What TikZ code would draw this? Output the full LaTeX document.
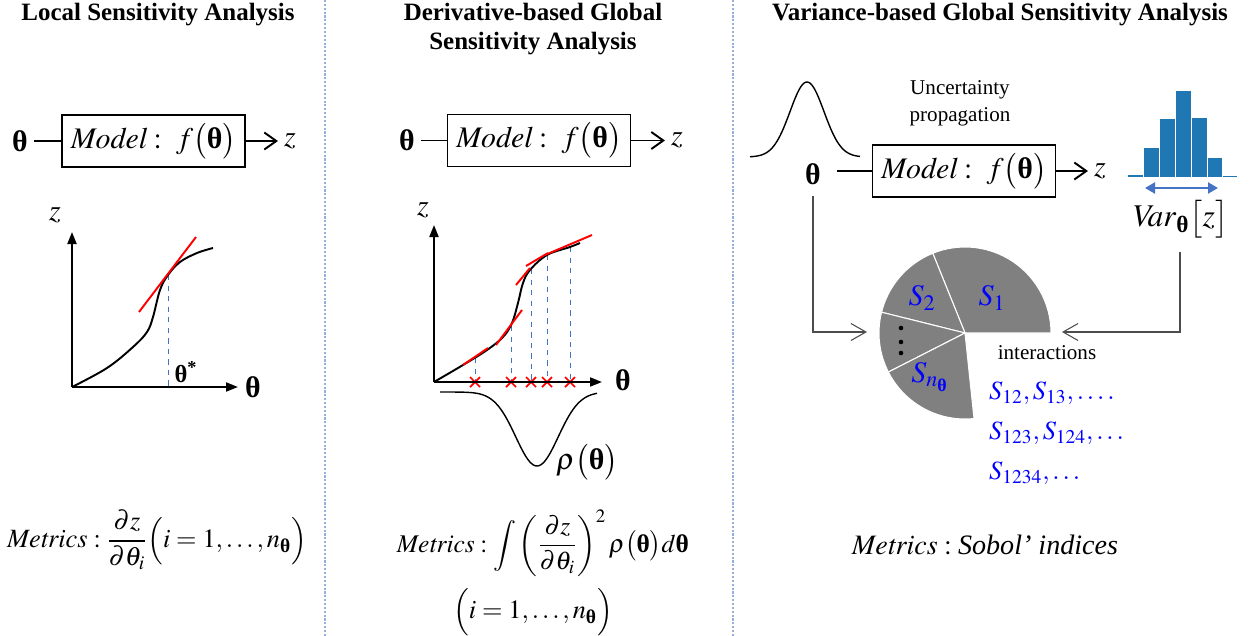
\documentclass[tikz,border=0pt]{standalone}
\usepackage{amsmath}
\usepackage{mathptmx}
\usepackage{fontspec}
\setmainfont{Liberation Serif}
\usepackage{xcolor}
\usepackage{tikz}
\usetikzlibrary{arrows.meta, positioning}
\definecolor{histblue}{RGB}{31,119,180}
\definecolor{arrowblue}{RGB}{68,114,196}
\definecolor{piegray}{RGB}{128,128,128}
\definecolor{splitblue}{RGB}{150,175,220}
\newcommand{\bth}{\text{\normalfont\bfseries θ}}

\begin{document}
\begin{tikzpicture}[
  x=0.02cm, y=-0.02cm,
  modelbox/.style={draw, line width=1.1pt, minimum width=3.66cm, minimum height=1.04cm, inner sep=0pt, font=\fontsize{17}{20}\selectfont},
  lbl/.style={font=\fontsize{17}{20}\selectfont},
  metric/.style={font=\fontsize{15}{18}\selectfont},
  title/.style={font=\bfseries\fontsize{14.2}{16.5}\selectfont, align=center},
  arrow/.style={line width=1.1pt, -{Straight Barb[length=2.4mm, width=3.4mm]}},
  axis/.style={line width=1.1pt, -{Triangle[length=2.4mm, width=1.8mm]}},
  tangent/.style={red, line width=1.1pt},
  guide/.style={arrowblue, dashed, line width=0.4pt},
  feed/.style={black!70, line width=0.6pt, -{Straight Barb[length=3mm, width=3.4mm]}}
]
\useasboundingbox (0,0) rectangle (1252,636);
\draw[splitblue, line width=0.6pt, dash pattern=on 1.2pt off 1pt] (325,0) -- (325,636) (733,0) -- (733,636);

\node[title] (tLocal) at (158,15) {Local Sensitivity Analysis};
\node[title] (tDeriv) at (533,29) {Derivative-based Global\\Sensitivity Analysis};
\node[title] (tVar) at (1000,15) {Variance-based Global Sensitivity Analysis};

% local
\node[modelbox] (boxL) at (153.5,141) {$\mathit{Model}:\ f\bigl(\bth\bigr)$};
\node[lbl] (thL) at (20,141) {\bfseries θ};
\node[lbl] (zL) at (290,141) {$z$};
\draw[line width=1.1pt] (thL) -- (boxL);
\draw[arrow] (boxL) -- (zL);

\draw[guide] (168,275) -- (168,387);
\draw[axis] (72,387) -- (72,232);
\draw[axis] (72,387) -- (238,387);
\node[lbl] (zaxL) at (55,215) {$z$};
\node[lbl] (thaxL) at (253,387) {\bfseries θ};
\draw[line width=1.1pt] plot[smooth, tension=0.6] coordinates {(72,387) (107,368) (133,347) (147,332) (153,317) (160,290) (168,275) (180,262) (197,253) (213,248)};
\draw[tangent] (139,312) -- (196,237);
\node[font=\fontsize{14}{16}\selectfont] (thStar) at (186,372) {\bfseries θ\textsuperscript{*}};

% derivative-based
\node[modelbox] (boxM) at (539,140.5) {$\mathit{Model}:\ f\bigl(\bth\bigr)$};
\node[lbl] (thM) at (407,140.5) {\bfseries θ};
\node[lbl] (zM) at (677,140.5) {$z$};
\draw[line width=1.1pt] (thM) -- (boxM);
\draw[arrow] (boxM) -- (zM);

\foreach \x/\y in {475/358, 511/326, 531/269, 547/255, 570/247} {
  \draw[guide] (\x,\y) -- (\x,382);
  \draw[red, line width=1pt] (\x-5,377) -- (\x+5,387) (\x-5,387) -- (\x+5,377);
}
\draw[axis] (434,382) -- (434,225);
\draw[axis] (434,382) -- (602,382);
\node[lbl] (zaxM) at (423,210) {$z$};
\node[lbl] (thaxM) at (623,380) {\bfseries θ};
\draw[line width=1.1pt] plot[smooth, tension=0.6] coordinates {(434,382) (463,365) (487,350) (503,337) (512,323) (518,303) (523,283) (530,270) (547,255) (570,247) (580,243)};
\draw[tangent] (463,365) -- (488,348) (496,345) -- (522,310) (516,285) -- (530,268) (526,266) -- (548,253) (545,255) -- (592,235);
\draw[line width=0.8pt] plot[domain=440:597, samples=80, smooth] (\x,{392+74*exp(-((\x-537)/30)^2)});
\node[lbl, anchor=west] (rhoM) at (550,462) {$\rho\bigl(\bth\bigr)$};

% variance-based
\draw[line width=0.8pt] plot[domain=750:860, samples=80, smooth] (\x,{157-75*exp(-((\x-807)/24)^2)});
\node[lbl] (thR) at (813,174) {\bfseries θ};
\node[modelbox] (boxR) at (964,171) {$\mathit{Model}:\ f\bigl(\bth\bigr)$};
\node[lbl] (zR) at (1100,171) {$z$};
\draw[line width=1.1pt, shorten <=2mm] (thR.east |- boxR.west) -- (boxR.west);
\draw[arrow] (boxR) -- (zR);
\node[align=center, font=\fontsize{12}{15.5}\selectfont] (upLabel) at (960,103) {Uncertainty\\propagation};

\fill[histblue] (1128,175) rectangle (1143,177);
\foreach \a/\b/\t in {1144/1159/148, 1160/1175/119, 1176/1191/91, 1192/1207/118, 1208/1222/158}
  \fill[histblue] (\a,\t) rectangle (\b,177);
\fill[histblue] (1223,175.5) rectangle (1237,177);
\draw[arrowblue, line width=1.2pt, {Triangle[length=2mm, width=2.2mm]}-{Triangle[length=2mm, width=2.2mm]}] (1145,188) -- (1218,188);
\node[font=\fontsize{18}{21}\selectfont] (varZ) at (1180,219) {$\mathit{Var}_{\bth}\bigl[z\bigr]$};

\coordinate (pieC) at (965,333);
\begin{scope}[shift={(pieC)}, yscale=-1]
  \foreach \a/\b in {0/112, 112/166, 166/207, 207/276}
    \draw[white, line width=0.6pt, fill=piegray] (0,0) -- (\a:86) arc (\a:\b:86) -- cycle;
\end{scope}
\foreach \y in {328,342,353}
  \fill (901,\y) circle (1.3pt);
\node[lbl, text=blue] (s2) at (922,298) {$S_2$};
\node[lbl, text=blue] (s1) at (992,298) {$S_1$};
\node[lbl, text=blue] (sn) at (930,377) {$S_{n_{\bth}}$};
\node[font=\fontsize{12}{14}\selectfont] (inter) at (1047,353) {interactions};
\node[metric, text=blue, anchor=west] (s12) at (983,393) {$S_{12},S_{13},\ldots.$};
\node[metric, text=blue, anchor=west] (s123) at (983,433) {$S_{123},S_{124},\ldots$};
\node[metric, text=blue, anchor=west] (s1234) at (983,473) {$S_{1234},\ldots$};

\coordinate (pieL) at (867,332);
\coordinate (pieR) at (1062,332);
\draw[feed, shorten <=1mm] (thR.south) |- (pieL);
\draw[feed, shorten <=1.5mm] (varZ.south) |- (pieR);

% metrics
\node[metric] (metL) at (157,540) {$\mathit{Metrics}:\dfrac{\partial z}{\partial\theta_i}\Bigl(i=1,\ldots,n_{\bth}\Bigr)$};
\node[metric, font=\fontsize{14.5}{17}\selectfont] (metM) at (543,543) {$\mathit{Metrics}:\displaystyle\int\left(\dfrac{\partial z}{\partial\theta_i}\right)^{2}\rho\bigl(\bth\bigr)d\bth$};
\node[metric] (idxM) at (533,612) {$\Bigl(i=1,\ldots,n_{\bth}\Bigr)$};
\node[lbl, font=\fontsize{16}{19}\selectfont] (metR) at (985,545) {$\mathit{Metrics}:\textit{Sobol' indices}$};
\end{tikzpicture}
\end{document}
